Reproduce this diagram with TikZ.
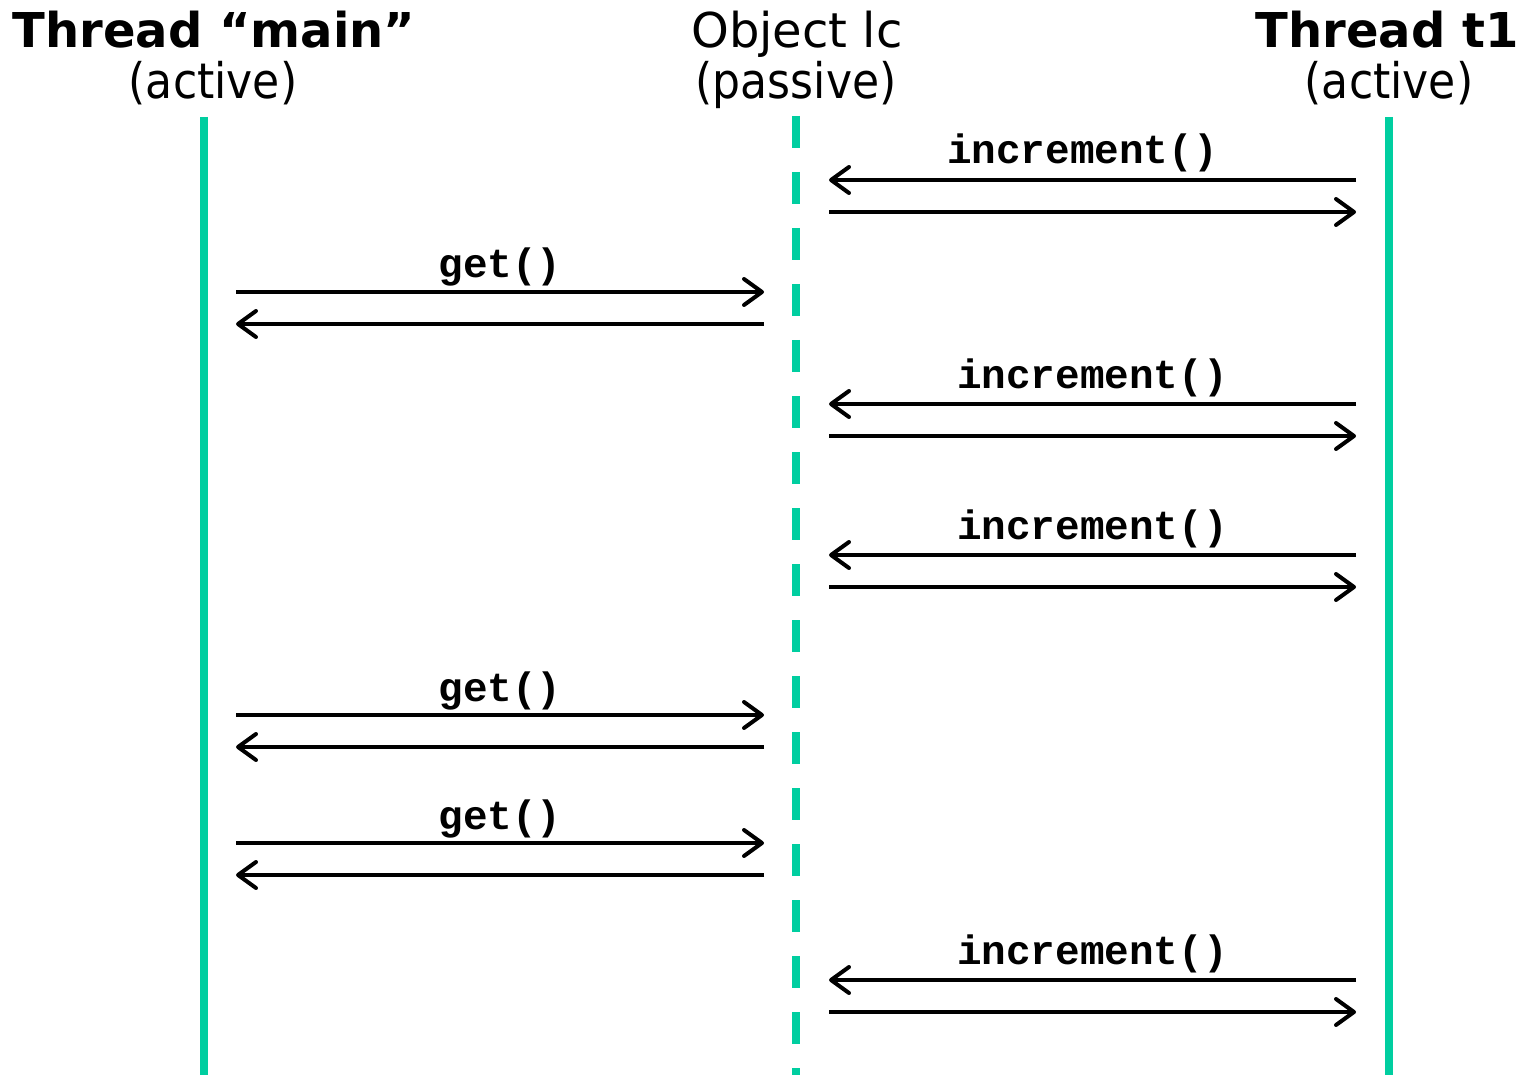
\documentclass[tikz,border=0pt]{standalone}
\usepackage{fontspec}
\setmainfont{DejaVu Sans}
\setmonofont{Liberation Mono}
\newfontfamily\kindfont[FakeStretch=0.9]{DejaVu Sans}
\usetikzlibrary{arrows.meta}
\definecolor{lifeteal}{RGB}{0,206,160}

\begin{document}
\begin{tikzpicture}[x=0.5pt, y=-0.5pt,
		lifeline/.style={lifeteal, line width=3.7pt},
		msg/.style={line width=2pt, -{Straight Barb[length=9pt, width=13pt, round]}},
		head/.style={anchor=base, inner sep=0pt, font=\fontsize{24}{28}\selectfont},
		headbold/.style={head, font=\fontsize{24}{28}\selectfont\bfseries},
		kind/.style={head, font=\kindfont\fontsize{24.5}{28}\selectfont},
		call/.style={anchor=base, inner sep=0pt, yshift=8pt, font=\ttfamily\bfseries\fontsize{20.5}{24}\selectfont}]
	\useasboundingbox (0,0) rectangle (1521,1075);

	% column heads
	\node [headbold] (mainHead) at (214,48) {Thread “main”};
	\node [kind] (mainKind) at (213,99) {(active)};
	\node [head] (lcHead) at (797,48) {Object lc};
	\node [kind] (lcKind) at (796,99) {(passive)};
	\node [headbold] (tHead) at (1387,48) {Thread t1};
	\node [kind] (tKind) at (1389,99) {(active)};

	% lifelines
	\coordinate (mainTop) at (204,117);
	\coordinate (mainBot) at (204,1075);
	\coordinate (lcTop) at (796,116);
	\coordinate (lcBot) at (796,1075);
	\coordinate (tTop) at (1389,117);
	\coordinate (tBot) at (1389,1075);
	\draw [lifeline] (mainTop) -- (mainBot);
	\draw [lifeline, dash pattern=on 16pt off 12pt] (lcTop) -- (lcBot);
	\draw [lifeline] (tTop) -- (tBot);

	% t1 calls increment() on lc
	\foreach \y/\dx [count=\i] in {180/-5pt,404/0pt,555/0pt,980/0pt} {
		\coordinate (incFrom\i) at (1356,\y);
		\coordinate (incTo\i) at (829,\y);
		\coordinate (incBack\i) at (829,\y+32);
		\coordinate (incEnd\i) at (1356,\y+32);
		\draw [msg] (incFrom\i) -- (incTo\i) node [call, pos=0.5, xshift=\dx] {increment()};
		\draw [msg] (incBack\i) -- (incEnd\i);
	}

	% main calls get() on lc
	\foreach \y [count=\i] in {292,715,843} {
		\coordinate (getFrom\i) at (236,\y);
		\coordinate (getTo\i) at (764,\y);
		\coordinate (getBack\i) at (764,\y+32);
		\coordinate (getEnd\i) at (236,\y+32);
		\draw [msg] (getFrom\i) -- (getTo\i) node [call, pos=0.5, yshift=-1pt] {get()};
		\draw [msg] (getBack\i) -- (getEnd\i);
	}
\end{tikzpicture}
\end{document}
